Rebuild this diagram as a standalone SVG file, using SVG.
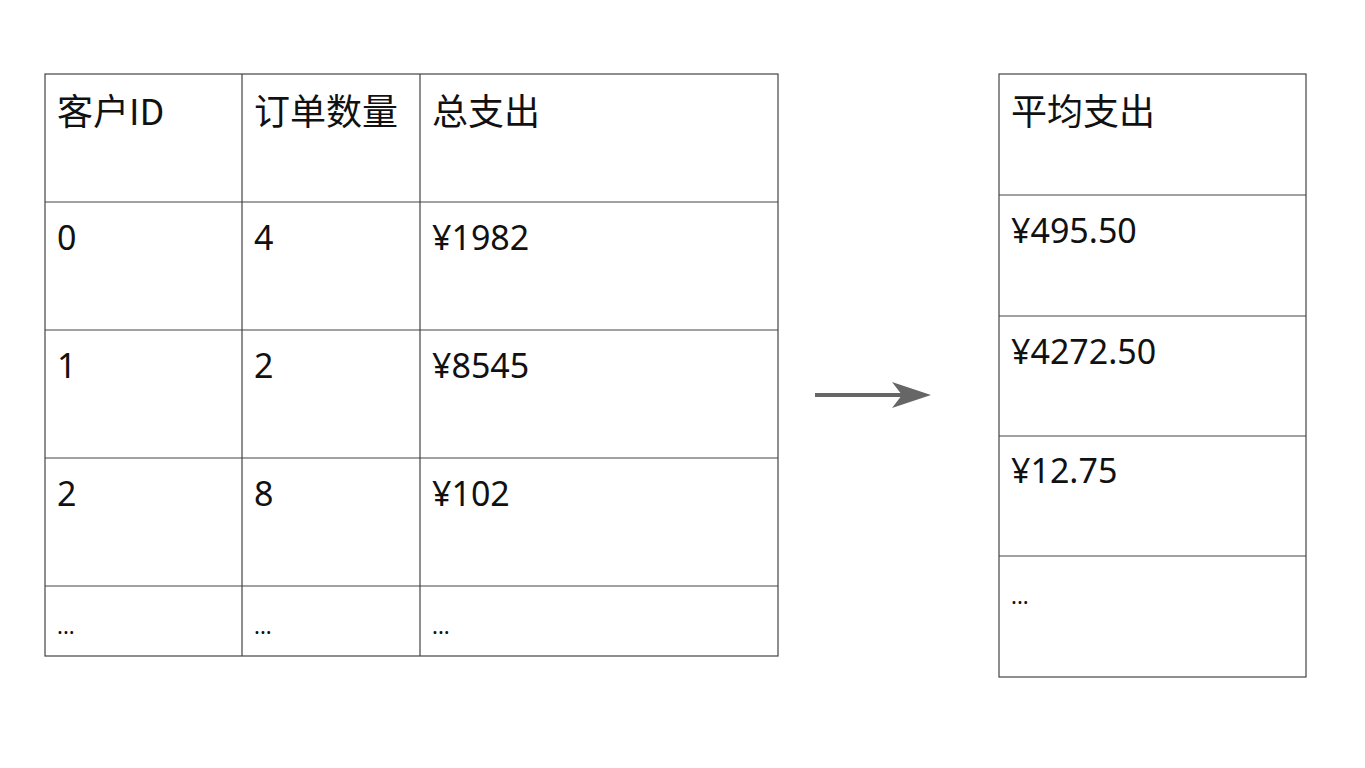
<svg xmlns="http://www.w3.org/2000/svg" width="1365" height="768" viewBox="0 0 1365 768">
<style>
.g{fill:none;stroke:#444;stroke-width:1.2}
.t{font-family:"Noto Sans","Noto Sans CJK SC",sans-serif;font-size:34px;fill:#111}
.h{font-family:"Noto Sans CJK SC","Noto Sans",sans-serif;font-size:36px;fill:#111}
.e{font-family:"Noto Sans","Noto Sans CJK SC",sans-serif;font-size:22px;fill:#111}
</style>
<rect width="1365" height="768" fill="#fff"/>
<g id="left-table">
<rect class="g" x="45" y="74" width="733" height="582"/>
<path class="g" d="M242,74V656M420,74V656M45,202H778M45,330H778M45,458H778M45,586H778"/>
<text class="h" x="57" y="125">客户ID</text><text class="h" x="254" y="125">订单数量</text><text class="h" x="432" y="125">总支出</text>
<text class="t" x="57" y="250">0</text><text class="t" x="254" y="250">4</text><text class="t" x="432" y="250">¥1982</text>
<text class="t" x="57" y="378">1</text><text class="t" x="254" y="378">2</text><text class="t" x="432" y="378">¥8545</text>
<text class="t" x="57" y="506">2</text><text class="t" x="254" y="506">8</text><text class="t" x="432" y="506">¥102</text>
<text class="e" x="57" y="634">...</text><text class="e" x="254" y="634">...</text><text class="e" x="432" y="634">...</text>
</g>
<g id="connectors">
<path d="M815,395H905" stroke="#666" stroke-width="4" fill="none"/>
<path d="M892,382L931,395L892,408L902,395Z" fill="#666"/>
</g>
<g id="right-table">
<rect class="g" x="999" y="74" width="307" height="603"/>
<path class="g" d="M999,195H1306M999,316H1306M999,436H1306M999,556H1306"/>
<text class="h" x="1011" y="125">平均支出</text>
<text class="t" x="1011" y="243">¥495.50</text>
<text class="t" x="1011" y="364">¥4272.50</text>
<text class="t" x="1011" y="483">¥12.75</text>
<text class="e" x="1011" y="604">...</text>
</g>
</svg>
